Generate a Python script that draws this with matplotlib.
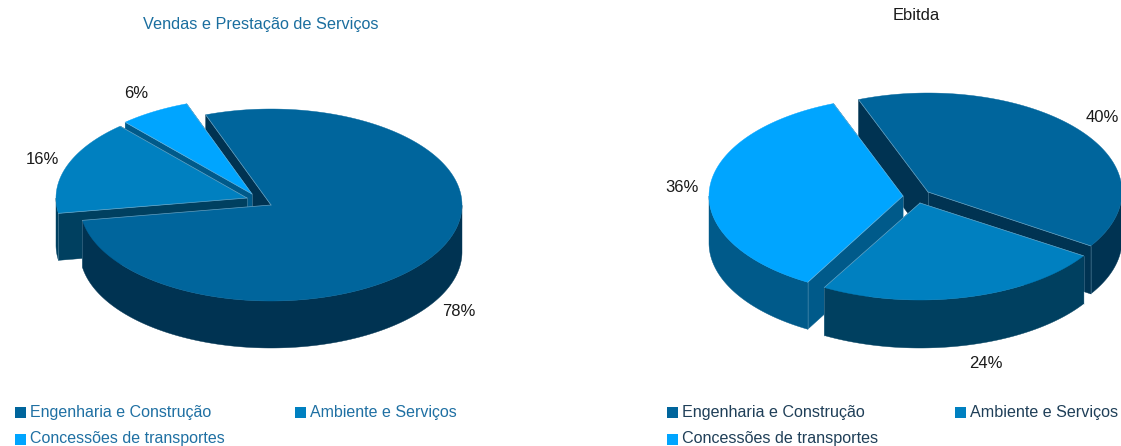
import matplotlib.pyplot as plt
from matplotlib.patches import Polygon, Rectangle
import numpy as np

# Data
categories = ["Engenharia e Construção", "Ambiente e Serviços", "Concessões de transportes"]
vendas_share = [78, 16, 6]
ebitda_share = [40, 24, 36]
vendas_title = "Vendas e Prestação de Serviços"
ebitda_title = "Ebitda"

top_colors = ["#00659c", "#0080c0", "#00a5ff"]
side_colors = ["#003352", "#004060", "#005a8a"]
seam = "#8fb9d0"

plt.rcParams["font.family"] = ["Liberation Sans", "DejaVu Sans"]

fig = plt.figure(figsize=(11.21, 4.46), dpi=100)
ax = fig.add_axes([0, 0, 1, 1])
ax.set_xlim(0, 1121)
ax.set_ylim(446, 0)
ax.axis("off")


def arc(tip, rx, ry, a0, a1, n=600):
    t = np.radians(np.linspace(a0, a1, n))
    return np.column_stack([tip[0] + rx * np.cos(t), tip[1] - ry * np.sin(t)])


def slice_angles(shares, start):
    # slices run clockwise from the start angle
    edges = start - np.cumsum([0] + list(shares)) * 3.6
    return list(zip(edges[:-1], edges[1:]))


# everything shares one zorder so that drawing order decides what hides what
def draw_radial_walls(tip, rx, ry, a0, a1, depth, color):
    for a in (a0, a1):
        p = arc(tip, rx, ry, a, a, 1)[0]
        ax.add_patch(Polygon([tip, p, p + [0, depth], np.add(tip, [0, depth])],
                             fc=color, ec=color, lw=0.3, zorder=2))
    ax.plot([tip[0], tip[0]], [tip[1], tip[1] + depth], color=seam, lw=0.4, alpha=0.6, zorder=2)


def draw_outer_and_top(tip, rx, ry, a0, a1, depth, side, top):
    rim = arc(tip, rx, ry, a0, a1)
    # only the front half of the rim shows a wall
    front = np.sin(np.radians(np.linspace(a0, a1, len(rim)))) <= 0
    if front.any():
        r = rim[front]
        wall = np.vstack([r, r[::-1] + [0, depth]])
        ax.add_patch(Polygon(wall, fc=side, ec=side, lw=0.3, zorder=2))
    ax.add_patch(Polygon(np.vstack([[tip], rim]), fc=top, ec=top, lw=0.3, zorder=2))
    # thin light seam along the cut edges
    for i, a in ((0, a0), (-1, a1)):
        p = rim[i]
        ax.plot([tip[0], p[0]], [tip[1], p[1]], color=seam, lw=0.5, alpha=0.7, zorder=2)
        if np.sin(np.radians(a)) < 0:
            ax.plot([p[0], p[0]], [p[1], p[1] + depth], color=seam, lw=0.4, alpha=0.5, zorder=2)


def draw_slice(i, tips, angles, rx, ry, depth):
    draw_radial_walls(tips[i], rx, ry, *angles[i], depth, side_colors[i])
    draw_outer_and_top(tips[i], rx, ry, *angles[i], depth, side_colors[i], top_colors[i])


# Left pie
left_tips = [(271, 205), (247, 198), (252, 194)]
left_angles = slice_angles(vendas_share, 110)
draw_radial_walls(left_tips[0], 191, 96, *left_angles[0], 47, side_colors[0])
draw_slice(2, left_tips, left_angles, 191, 96, 47)
draw_slice(1, left_tips, left_angles, 191, 96, 47)
draw_outer_and_top(left_tips[0], 191, 96, *left_angles[0], 47, side_colors[0], top_colors[0])

# Right pie
right_tips = [(928, 192), (920, 203), (903, 196)]
right_angles = slice_angles(ebitda_share, 111)
draw_slice(0, right_tips, right_angles, 194, 99, 48)
draw_slice(2, right_tips, right_angles, 194, 99, 47)
draw_slice(1, right_tips, right_angles, 195, 97, 48)

# Percentage labels
left_label_pos = [(459, 311), (42, 160), (136, 94)]
right_label_pos = [(1102, 117), (986, 363), (682, 187)]
for shares, spots in ((vendas_share, left_label_pos), (ebitda_share, right_label_pos)):
    for v, (x, y) in zip(shares, spots):
        ax.text(x, y, f"{v}%", ha="center", va="center", fontsize=12, color="#1a1a1a")

# Titles
ax.text(261, 24, vendas_title, ha="center", va="center", fontsize=11.7, color="#1a6e9f")
ax.text(916, 15, ebitda_title, ha="center", va="center", fontsize=11.85, color="#1a1a1a")

# Legends: square corner and text centre
left_legend_pos = [(15, 407, 412), (295, 407, 412), (15, 434, 438)]
right_legend_pos = [(667, 407, 412), (955, 407, 412), (667, 434, 438)]
for spots, tc, fs in ((left_legend_pos, "#1f70a3", 11.5), (right_legend_pos, "#1f3f58", 11.6)):
    for name, c, (x, y, ty) in zip(categories, top_colors, spots):
        ax.add_patch(Rectangle((x, y), 11, 11, fc=c, ec="none"))
        ax.text(x + 15.5, ty, name, ha="left", va="center", fontsize=fs, color=tc)

plt.savefig("out.png", dpi=100)
